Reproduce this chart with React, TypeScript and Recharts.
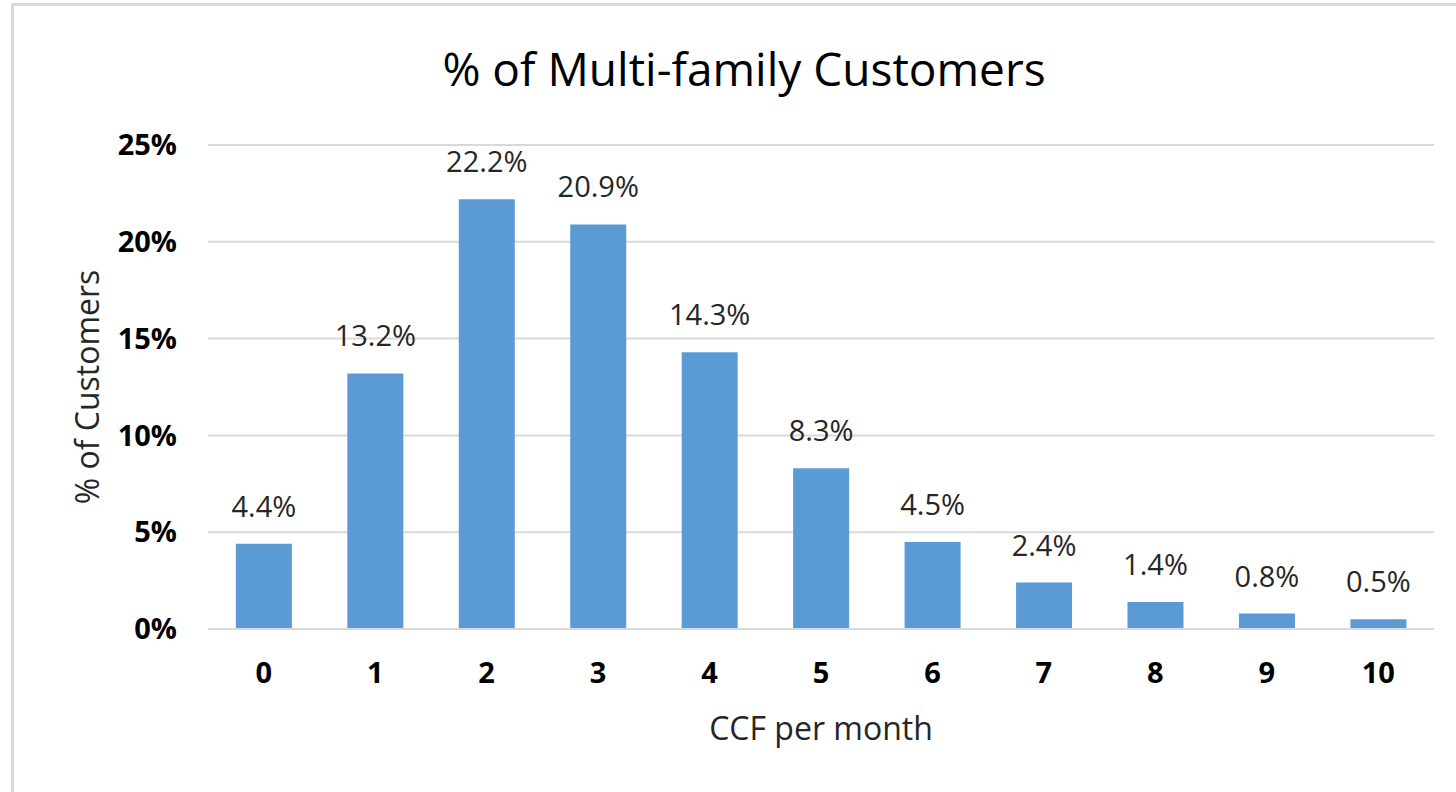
import { Bar, BarChart, CartesianGrid, LabelList, XAxis, YAxis } from "recharts"

const categories = ["0", "1", "2", "3", "4", "5", "6", "7", "8", "9", "10"]
const shares = [4.4, 13.2, 22.2, 20.9, 14.3, 8.3, 4.5, 2.4, 1.4, 0.8, 0.5]
const yTicks = [0, 5, 10, 15, 20, 25]

const data = categories.map((ccf, i) => ({ ccf, share: shares[i] }))

const font = "'Open Sans', sans-serif"

export default function App() {
  return (
    <div style={{ position: "fixed", left: 0, top: 0, width: 1456, height: 792, background: "#fff", overflow: "hidden", fontFamily: font }}>
      <div style={{ position: "absolute", left: 11, top: 3, right: -10, bottom: -10, borderLeft: "3px solid #d9d9d9", borderTop: "3px solid #d9d9d9" }} />
      <div style={{ position: "absolute", left: 0, width: 1488, top: 38, textAlign: "center", fontSize: 46, color: "#000", lineHeight: "60px" }}>
        % of Multi-family Customers
      </div>
      <div style={{ position: "absolute", left: 0, top: 0 }}>
        <BarChart width={1456} height={792} data={data} margin={{ top: 145, right: 22, bottom: 43, left: 148 }} barCategoryGap="25%">
          <CartesianGrid vertical={false} stroke="#d9d9d9" strokeWidth={2} />
          <XAxis
            dataKey="ccf"
            height={120}
            tickLine={false}
            axisLine={{ stroke: "#d9d9d9", strokeWidth: 2 }}
            tickSize={0}
            tickMargin={33}
            tick={{ fill: "#000", fontSize: 29, fontWeight: 700, fontFamily: font }}
            label={{ value: "CCF per month", position: "insideBottom", offset: 9, fill: "#262626", fontSize: 32, fontFamily: font }}
          />
          <YAxis
            width={60}
            domain={[0, 25]}
            ticks={yTicks}
            tickFormatter={(v) => `${v}%`}
            tickLine={false}
            axisLine={false}
            tickSize={0}
            tickMargin={31}
            tick={{ fill: "#000", fontSize: 29, fontWeight: 700, fontFamily: font }}
            label={{ value: "% of Customers", angle: -90, position: "insideLeft", offset: -60, fill: "#262626", fontSize: 32, fontFamily: font, style: { textAnchor: "middle" } }}
          />
          <Bar dataKey="share" fill="#5b9bd5" isAnimationActive={false}>
            <LabelList dataKey="share" position="top" offset={27} formatter={(v: number) => `${v}%`} fill="#262626" fontSize={29} fontFamily={font} />
          </Bar>
        </BarChart>
      </div>
    </div>
  )
}
